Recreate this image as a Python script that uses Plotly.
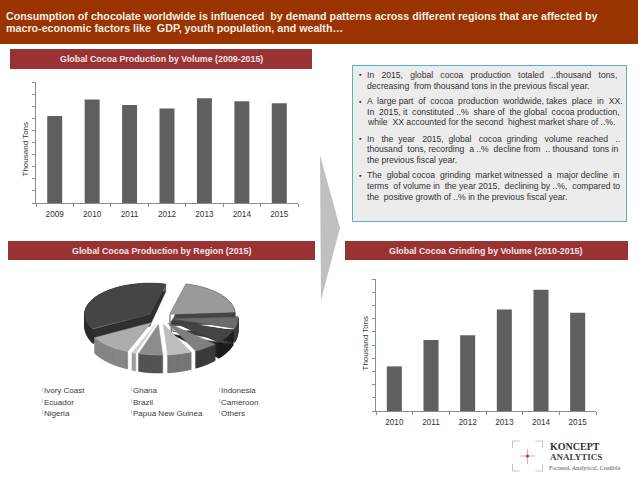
import numpy as np
import plotly.graph_objects as go

W, H = 638, 479

# ---------- data ----------
prod_years = ["2009", "2010", "2011", "2012", "2013", "2014", "2015"]
prod_values = [7.2, 8.55, 8.1, 7.8, 8.65, 8.4, 8.25]
grind_years = ["2010", "2011", "2012", "2013", "2014", "2015"]
grind_values = [3.38, 5.38, 5.74, 7.69, 9.19, 7.44]
regions = ["Ivory Coast", "Ghana", "Indonesia", "Ecuador", "Brazil",
           "Cameroon", "Nigeria", "Papua New Guinea", "Others"]
region_share = [37, 20, 6, 7, 6, 6, 6, 1, 11]
top_colors = ["#454545", "#9a9a9a", "#6b6b6b", "#444444", "#7f7f7f",
              "#bdbdbd", "#8c8c8c", "#d0d0d0", "#adadad"]
side_colors = ["#2f2f2f", "#454545", "#3c3c3c", "#1f1f1f", "#3d3d3d",
               "#767676", "#555555", "#a0a0a0", "#868686"]
title_lines = ["Consumption of chocolate worldwide is influenced  by demand patterns across different regions that are affected by",
               "macro-economic factors like  GDP, youth population, and wealth…"]
panel_titles = ["Global Cocoa Production by Volume (2009-2015)",
                "Global Cocoa Production by Region (2015)",
                "Global Cocoa Grinding by Volume (2010-2015)"]
# each line of the box, with the count of extra spaces that stretches it to the box width
bullets = [
    [("In 2015, global cocoa production totaled ..thousand tons,", 14),
     ("decreasing from thousand tons in the previous fiscal year.", 1)],
    [("A large part of cocoa production worldwide, takes place in XX.", 8),
     ("In 2015, it constituted ..% share of the global cocoa production,", 5),
     ("while XX accounted for the second highest market share of ..%.", 2)],
    [("In the year 2015, global cocoa grinding volume reached ..", 14),
     ("thousand tons, recording a ..% decline from .. thousand tons in", 5),
     ("the previous fiscal year.", 0)],
    [("The global cocoa grinding market witnessed a major decline in", 6),
     ("terms of volume in the year 2015, declining by ..%, compared to", 4),
     ("the positive growth of ..% in the previous fiscal year.", 1)],
]

def stretch(line, extra):
    """Widen the word gaps evenly with no-break spaces, as the justified original does."""
    words = line.split(" ")
    gaps = len(words) - 1
    out = words[0]
    for k, w in enumerate(words[1:]):
        n = extra // gaps + (1 if (k * (extra % gaps)) % gaps < extra % gaps else 0)
        out += " " + "\u00a0" * n + w if n else " " + w
    return out

# ---------- helpers (pixel layout to paper fractions) ----------
FONT = "Liberation Sans"
def px(x): return x / W
def py(y): return 1 - y / H

shapes, annotations = [], []
def rect(x0, y0, x1, y1, fill, line=None, lw=0):
    shapes.append(dict(type="rect", xref="paper", yref="paper", x0=px(x0), x1=px(x1),
                       y0=py(y1), y1=py(y0), fillcolor=fill, layer="below",
                       line=dict(color=line or fill, width=lw)))
def seg(x0, y0, x1, y1, color, lw=1):
    shapes.append(dict(type="line", xref="paper", yref="paper", x0=px(x0), x1=px(x1),
                       y0=py(y0), y1=py(y1), line=dict(color=color, width=lw)))
def text(x, y, s, size, color="#333333", bold=False, anchor="left", family=FONT, angle=0):
    annotations.append(dict(xref="paper", yref="paper", x=px(x), y=py(y), text=f"<b>{s}</b>" if bold else s,
                            showarrow=False, xanchor=anchor, yanchor="middle", textangle=angle,
                            font=dict(family=family, size=size, color=color), borderpad=0, borderwidth=0))

# ---------- page furniture ----------
rect(0, 0, W, 44, "#993300")
text(6, 16.5, title_lines[0], 10.7, "#f4ece6", True)
text(6, 28.5, title_lines[1], 10.7, "#f4ece6", True)
for (x0, x1, y0, y1), t in zip([(10, 312, 49, 69), (8, 315, 241, 260), (345, 628, 241, 260)], panel_titles):
    rect(x0, y0, x1, y1, "#993333")
    text((x0 + x1) / 2, (y0 + y1) / 2, t, 8.85, "#f3e6e6", True, "center")

# arrow between panels
shapes.append(dict(type="path", xref="paper", yref="paper", layer="below", fillcolor="#c0c0c0",
                   line=dict(width=0),
                   path=f"M {px(320)} {py(155)} L {px(340)} {py(228)} L {px(321)} {py(300)} Z"))

# insight box
rect(352.5, 65.5, 626.5, 221.5, "#ececec", "#55b5b5", 1)
y = 75
for block in bullets:
    text(359, y, "▪", 7, "#222222")
    for ln, extra in block:
        text(367, y, stretch(ln, extra), 8.65, "#333333")
        y += 10.5
    y += 5.5

# pie legend
legend_x = [44, 133, 221]
legend_y = [390.5, 402, 413]
for i, name in enumerate(regions):
    lx, ly = legend_x[i % 3], legend_y[i // 3]
    text(lx, ly, name, 8, "#3a3a3a")
    seg(lx - 1.5, ly - 3, lx - 1.5, ly + 1, "#cccccc", 1)

# axis titles
text(25.5, 149, "Thousand Tons", 8, "#333333", angle=-90, anchor="center")
text(364.5, 343, "Thousand Tons", 8, "#333333", angle=-90, anchor="center")

# logo
lc = "#c4c4c4"
for x0, sx in ((512.5, 1), (542.5, -1)):
    for y0, sy in ((441, 1), (471, -1)):
        seg(x0, y0, x0 + 7 * sx, y0, lc)
        seg(x0, y0, x0, y0 + 7 * sy, lc)
seg(520, 456, 535, 456, "#d8b0b0")
seg(527.5, 449, 527.5, 464, "#d8b0b0")
shapes.append(dict(type="circle", xref="paper", yref="paper", x0=px(526), x1=px(529), y0=py(457.5), y1=py(454.5),
                   fillcolor="#c02a2a", line=dict(width=0)))
text(550, 446, "KONCEPT", 10, "#333333", True, family="Liberation Serif")
text(550, 456.5, "ANALYTICS", 9, "#444444", True, family="Liberation Serif")
text(549, 467.5, "Focused, Analytical, Credible", 6, "#555555", family="Liberation Serif")

# ---------- bars ----------
fig = go.Figure()
fig.add_bar(x=prod_years, y=prod_values, marker=dict(color="#5f5f5f", line=dict(width=0)),
            width=0.4, xaxis="x", yaxis="y", showlegend=False, hoverinfo="x+y")
fig.add_bar(x=grind_years, y=grind_values, marker=dict(color="#5f5f5f", line=dict(width=0)),
            width=0.41, xaxis="x2", yaxis="y2", showlegend=False, hoverinfo="x+y")

# ---------- exploded 3-D pie, driven by region_share ----------
RX, RY = 65.0, 31.0          # pixels per unit
CX, CY = 160.0, 318.0        # pie centre in pixels
START = 241.0                # degrees clockwise from north
EXPLODE = 0.2
box = (60, 265, 260, 385)    # pixel box of the pie axes
def depth(yv):               # wall height: perspective makes far walls shorter
    return (12.5 - 4.5 * yv) / RY
total = sum(region_share)
slices, a = [], START
for i, v in enumerate(region_share):
    span = 360.0 * v / total
    slices.append((i, a, a + span))
    a += span

def mid(s): return np.radians((s[1] + s[2]) / 2)
for i, a0, a1 in sorted(slices, key=lambda s: -np.cos(mid(s))):
    m = mid((i, a0, a1))
    ox, oy = EXPLODE * np.sin(m), EXPLODE * np.cos(m)
    t = np.radians(np.linspace(a0, a1, max(int(a1 - a0), 2) + 1))
    xs = np.r_[ox, ox + np.sin(t), ox]
    ys = np.r_[oy, oy + np.cos(t), oy]
    # front slices show only the outer wall, so the white gaps between them stay open
    first, last = (0, len(xs) - 1) if np.cos(m) > -0.6 else (1, len(xs) - 2)
    wx, wy = [], []
    for k in range(first, last):
        wx += [xs[k], xs[k + 1], xs[k + 1], xs[k], xs[k], None]
        wy += [ys[k], ys[k + 1], ys[k + 1] - depth(ys[k + 1]), ys[k] - depth(ys[k]), ys[k], None]
    fig.add_scatter(x=wx, y=wy, mode="lines", fill="toself", fillcolor=side_colors[i],
                    line=dict(color=side_colors[i], width=0.5), xaxis="x3", yaxis="y3",
                    showlegend=False, hoverinfo="skip")
    fig.add_scatter(x=xs, y=ys, mode="lines", fill="toself", fillcolor=top_colors[i],
                    line=dict(color=top_colors[i], width=0.5), xaxis="x3", yaxis="y3",
                    showlegend=False, hoverinfo="text", text=f"{regions[i]}: {region_share[i]}%")

# ---------- axes ----------
def cat_axis():
    return dict(showgrid=False, zeroline=False, showline=True,
                linecolor="#8c8c8c", linewidth=1, ticks="outside", ticklen=3, tickcolor="#8c8c8c",
                tickson="boundaries", ticklabelstandoff=3,
                tickfont=dict(family=FONT, size=8.2, color="#333333"), type="category")
def val_axis(y0, y1):
    return dict(domain=[py(y1), py(y0)], range=[0, 10], dtick=1, showticklabels=False, showgrid=False,
                zeroline=False, showline=True, linecolor="#8c8c8c", linewidth=1, ticks="outside",
                ticklen=3, tickcolor="#8c8c8c")

xa1 = dict(cat_axis(), domain=[px(36), px(298)], anchor="y")
ya1 = dict(val_axis(82, 203), anchor="x")
xa2 = dict(cat_axis(), domain=[px(376), px(596)], anchor="y2")
ya2 = dict(val_axis(279, 411), anchor="x2")
hidden = dict(visible=False, fixedrange=True)
xa3 = dict(hidden, domain=[px(box[0]), px(box[2])], range=[(box[0] - CX) / RX, (box[2] - CX) / RX], anchor="y3")
ya3 = dict(hidden, domain=[py(box[3]), py(box[1])], range=[(CY - box[3]) / RY, (CY - box[1]) / RY], anchor="x3")

fig.update_layout(
    width=W, height=H, autosize=False, margin=dict(l=0, r=0, t=0, b=0),
    paper_bgcolor="white", plot_bgcolor="rgba(0,0,0,0)", showlegend=False,
    shapes=shapes, annotations=annotations,
    xaxis=xa1, yaxis=ya1, xaxis2=xa2, yaxis2=ya2, xaxis3=xa3, yaxis3=ya3,
)
fig.write_html("out.html", config=dict(displayModeBar=False),
               post_script="document.body.style.margin='0';document.body.style.overflow='hidden';")
